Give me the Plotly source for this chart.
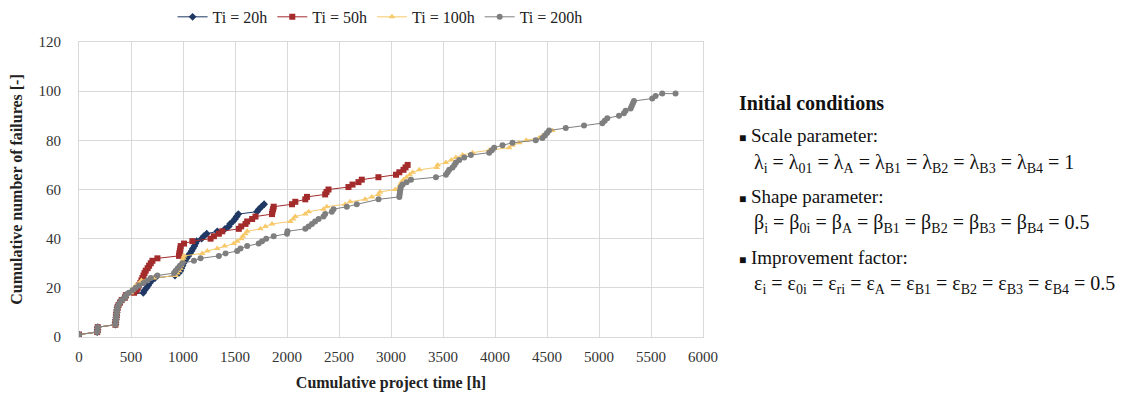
import plotly.graph_objects as go

# ---- data ----
t_20 = [0, 175, 178, 180, 350, 352, 355, 358, 360, 363, 366, 370, 380, 394, 410, 442, 450,
        618, 630, 650, 665, 680, 700, 731, 923, 960, 975, 985, 995, 1003, 1019, 1035, 1050,
        1067, 1083, 1095, 1110, 1120, 1131, 1179, 1200, 1228, 1330, 1404, 1440, 1452, 1480,
        1500, 1516, 1532, 1712, 1730, 1755, 1780]
n_20 = [1, 2, 3, 4, 5, 6, 7, 8, 9, 10, 11, 12, 13, 14, 15, 16, 17,
        18, 19, 20, 21, 22, 23, 24, 25, 26, 27, 28, 29, 30, 31, 32, 33,
        34, 35, 36, 37, 38, 39, 40, 41, 42, 43, 44, 45, 46, 47,
        48, 49, 50, 51, 52, 53, 54]

t_50 = [0, 175, 178, 180, 350, 352, 355, 358, 360, 363, 366, 370, 380, 394, 410, 442, 450,
        530, 555, 565, 575, 590, 600, 610, 620, 630, 642, 660, 674, 690, 706, 754, 962, 965,
        970, 974, 978, 1010, 1090, 1265, 1297, 1345, 1377, 1537, 1560, 1601, 1617,
        1665, 1697, 1856, 1860, 1866, 1872, 2048, 2080, 2176, 2192, 2367, 2380, 2399, 2591,
        2630, 2687, 2719, 2879, 3048, 3080, 3120, 3140, 3160]
n_50 = [1, 2, 3, 4, 5, 6, 7, 8, 9, 10, 11, 12, 13, 14, 15, 16, 17,
        18, 19, 20, 21, 22, 23, 24, 25, 26, 27, 28, 29, 30, 31, 32, 33, 34,
        35, 36, 37, 38, 39, 40, 41, 42, 43, 44, 45, 46, 47,
        48, 49, 50, 51, 52, 53, 54, 55, 56, 57, 58, 59, 60, 61,
        62, 63, 64, 65, 66, 67, 68, 69, 70]

t_100 = [0, 175, 178, 180, 350, 352, 355, 358, 360, 363, 366, 370, 380, 394, 410, 442, 450,
         500, 514, 530, 546, 580, 600, 722, 930, 945, 962, 975, 980, 985, 995, 1003, 1010,
         1185, 1233, 1329, 1400, 1489, 1521, 1560, 1575, 1600, 1617, 1744, 1792, 1856,
         2032, 2060, 2080, 2176, 2208, 2351, 2383, 2559, 2607, 2751, 2815, 2879, 2894,
         3040, 3080, 3090, 3100, 3120, 3150, 3180, 3208, 3272, 3440, 3448, 3528, 3580,
         3624, 3688, 3784, 3944, 4136, 4168, 4232, 4300, 4424, 4460, 4500, 4552]
n_100 = [1, 2, 3, 4, 5, 6, 7, 8, 9, 10, 11, 12, 13, 14, 15, 16, 17,
         18, 19, 20, 21, 22, 23, 24, 25, 26, 27, 28, 29, 30, 31, 32, 33,
         34, 35, 36, 37, 38, 39, 40, 41, 42, 43, 44, 45, 46,
         47, 48, 49, 50, 51, 52, 53, 54, 55, 56, 57, 58, 59,
         60, 61, 62, 63, 64, 65, 66, 67, 68, 69, 70, 71, 72,
         73, 74, 75, 76, 77, 78, 79, 80, 81, 82, 83, 84]

t_200 = [0, 175, 178, 180, 350, 352, 355, 358, 360, 363, 366, 370, 380, 394, 410, 442, 450,
         480, 515, 546, 578, 620, 658, 690, 754, 914, 930, 950, 970, 994, 1105, 1169, 1345,
         1409, 1521, 1553, 1617, 1728, 1760, 1800, 1872, 2000, 2005, 2176, 2208, 2240,
         2270, 2304, 2351, 2367, 2431, 2447, 2575, 2671, 2880, 3080, 3083, 3086, 3090,
         3095, 3112, 3150, 3192, 3432, 3528, 3545, 3560, 3592, 3610, 3625, 3656, 3704,
         3768, 3944, 3970, 3992, 4072, 4168, 4392, 4456, 4480, 4500, 4520, 4680, 4856,
         5032, 5055, 5080, 5192, 5240, 5256, 5304, 5315, 5325, 5336, 5512, 5544, 5608,
         5736]
n_200 = [1, 2, 3, 4, 5, 6, 7, 8, 9, 10, 11, 12, 13, 14, 15, 16, 17,
         18, 19, 20, 21, 22, 23, 24, 25, 26, 27, 28, 29, 30, 31, 32, 33,
         34, 35, 36, 37, 38, 39, 40, 41, 42, 43, 44, 45, 46,
         47, 48, 49, 50, 51, 52, 53, 54, 56, 57, 58, 59, 60,
         61, 62, 63, 64, 65, 66, 67, 68, 69, 70, 71, 72, 73,
         74, 75, 76, 77, 78, 79, 80, 81, 82, 83, 84, 85, 86,
         87, 88, 89, 90, 91, 92, 93, 94, 95, 96, 97, 98, 99,
         99]

series_names = ["Ti = 20h", "Ti = 50h", "Ti = 100h", "Ti = 200h"]
x_ticks = [0, 500, 1000, 1500, 2000, 2500, 3000, 3500, 4000, 4500, 5000, 5500, 6000]
y_ticks = [0, 20, 40, 60, 80, 100, 120]

FONT = "Liberation Serif"

styles = [
    dict(color="#1f3864", symbol="diamond", size=6),
    dict(color="#a32b2b", symbol="square", size=6),
    dict(color="#f7c96b", symbol="triangle-up", size=6),
    dict(color="#7f7f7f", symbol="circle", size=6),
]
data = [(t_20, n_20), (t_50, n_50), (t_100, n_100), (t_200, n_200)]

fig = go.Figure()
for (xs, ys), name, st in zip(data, series_names, styles):
    fig.add_trace(go.Scatter(
        x=xs, y=ys, name=name, mode="lines+markers",
        line=dict(color=st["color"], width=1),
        marker=dict(color=st["color"], symbol=st["symbol"], size=st["size"]),
    ))

axis_common = dict(
    showgrid=True, gridcolor="#d9d9d9", gridwidth=1,
    showline=True, linecolor="#d9d9d9", linewidth=1, mirror=True,
    zeroline=False, ticks="outside", tickcolor="rgba(0,0,0,0)",
    tickfont=dict(family=FONT, size=15, color="#333333"),
)

fig.update_xaxes(range=[0, 6000], tickvals=x_ticks, ticklen=6, **axis_common,
                 title=dict(text="<b>Cumulative project time [h]</b>",
                            font=dict(family=FONT, size=16, color="#222222"), standoff=12))
fig.update_yaxes(range=[0, 120], tickvals=y_ticks, ticklen=14, **axis_common,
                 title=dict(text="<b>Cumulative number of failures [-]</b>",
                            font=dict(family=FONT, size=16, color="#222222"), standoff=12))

fig.update_layout(
    width=1119, height=393,
    margin=dict(l=71, r=424, t=34, b=64, autoexpand=False),
    plot_bgcolor="white", paper_bgcolor="white",
    font=dict(family=FONT, color="#222222"),
    legend=dict(orientation="h", x=0.15, y=1.085, xanchor="left", yanchor="middle",
                font=dict(family=FONT, size=16, color="#222222"),
                itemwidth=30, tracegroupgap=0, bgcolor="rgba(0,0,0,0)"),
)

def px_to_py(py):
    return (337 - py) / 295.0

xl = (737 - 79) / 624.0
xt = (752 - 79) / 624.0
BUL = "<span style='font-size:12px'>■</span> "
lines = [
    (xl, 103, "<b>Initial conditions</b>", 20),
    (xl, 136, BUL + "Scale parameter:", 19),
    (xt, 163, "λ<sub>i</sub> = λ<sub>01</sub> = λ<sub>A</sub> = λ<sub>B1</sub> = λ<sub>B2</sub> = λ<sub>B3</sub> = λ<sub>B4</sub> = 1", 20),
    (xl, 196, BUL + "Shape parameter:", 19),
    (xt, 223, "β<sub>i</sub> = β<sub>0i</sub> = β<sub>A</sub> = β<sub>B1</sub> = β<sub>B2</sub> = β<sub>B3</sub> = β<sub>B4</sub> = 0.5", 20),
    (xl, 257, BUL + "Improvement factor:", 19),
    (xt, 284, "ε<sub>i</sub> = ε<sub>0i</sub> = ε<sub>ri</sub> = ε<sub>A</sub> = ε<sub>B1</sub> = ε<sub>B2</sub> = ε<sub>B3</sub> = ε<sub>B4</sub> = 0.5", 20),
]
for x, py, txt, sz in lines:
    fig.add_annotation(x=x, y=px_to_py(py), xref="paper", yref="paper",
                       xanchor="left", yanchor="middle", showarrow=False,
                       text=txt, font=dict(family=FONT, size=sz, color="#111111"))

fig.write_html("out.html")
